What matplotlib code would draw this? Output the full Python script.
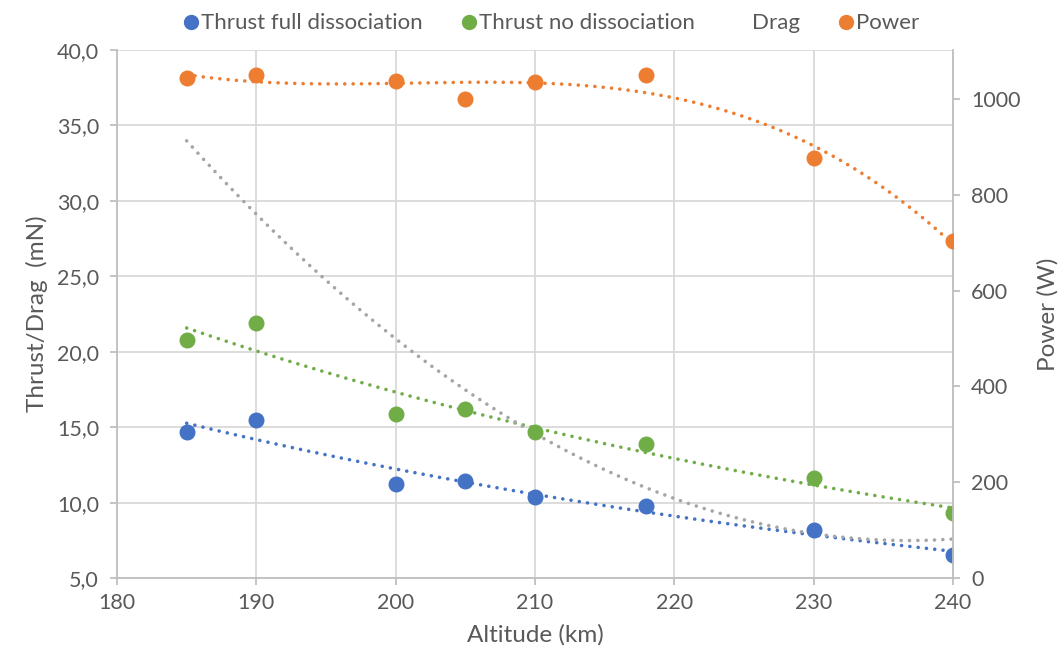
import numpy as np
import matplotlib
matplotlib.use("Agg")
import matplotlib.pyplot as plt
from matplotlib.lines import Line2D
from matplotlib.ticker import FuncFormatter

plt.rcParams['font.family'] = ['Lato', 'DejaVu Sans']

# Altitude samples (km)
altitude = [185, 190, 200, 205, 210, 218, 230, 240]
# Thrust (mN)
thrust_full = [14.7, 15.5, 11.2, 11.4, 10.4, 9.8, 8.2, 6.5]
thrust_none = [20.8, 21.9, 15.9, 16.2, 14.7, 13.9, 11.6, 9.3]
# Drag (mN), shown only through its trendline
drag = [34.0, 29.1, 20.8, 17.5, 14.6, 11.0, 7.9, 7.6]
# Power (W)
power = [1044, 1050, 1038, 1000, 1036, 1050, 876, 704]

C_BLUE = '#4472C4'
C_GREEN = '#70AD47'
C_GRAY = '#A5A5A5'
C_ORANGE = '#ED7D31'
TXT = '#595959'
GRID = '#D9D9D9'

x = np.array(altitude, dtype=float)
xs = np.linspace(x.min(), x.max(), 300)


def exp_trend(y):
    k, b = np.polyfit(x, np.log(y), 1)
    return np.exp(b + k * xs)


def poly_trend(y, order):
    return np.polyval(np.polyfit(x, y, order), xs)


fig = plt.figure(figsize=(10.61, 6.60), dpi=100)
ax = fig.add_axes([0.1103, 0.1242, 0.7879, 0.8000])
ax2 = ax.twinx()

dot = dict(linestyle=(0, (0.01, 2.3)), dash_capstyle='round', lw=2.6)

ax.plot(xs, exp_trend(thrust_full), color=C_BLUE, **dot, zorder=3)
ax.plot(xs, exp_trend(thrust_none), color=C_GREEN, **dot, zorder=3)
ax.plot(xs, poly_trend(drag, 2), color=C_GRAY, **dot, zorder=3)
ax.plot(x, thrust_full, 'o', color=C_BLUE, ms=10.5, zorder=4)
ax.plot(x, thrust_none, 'o', color=C_GREEN, ms=10.5, zorder=4)

ax2.plot(xs, poly_trend(power, 3), color=C_ORANGE, **dot, zorder=3)
ax2.plot(x, power, 'o', color=C_ORANGE, ms=10.5, zorder=4)

ax.set_xlim(180, 240)
ax.set_ylim(5, 40)
ax2.set_ylim(0, 1102)
ax.set_xticks(np.arange(180, 241, 10))
ax.set_yticks(np.arange(5, 40.1, 5))
ax2.set_yticks(np.arange(0, 1001, 200))
ax.yaxis.set_major_formatter(FuncFormatter(lambda v, p: f"{v:.1f}".replace('.', ',')))

ax.grid(True, color=GRID, lw=1.3)
ax.set_axisbelow(True)

for a in (ax, ax2):
    for s in a.spines.values():
        s.set_visible(False)
ax.spines['left'].set_visible(True)
ax.spines['bottom'].set_visible(True)
ax2.spines['right'].set_visible(True)
for s in (ax.spines['left'], ax.spines['bottom'], ax2.spines['right']):
    s.set_color('#BFBFBF')
    s.set_linewidth(1.3)

ax.tick_params(axis='both', colors='#BFBFBF', labelcolor=TXT, labelsize=15.5,
               length=5, width=1.3)
ax2.tick_params(axis='y', colors='#BFBFBF', labelcolor=TXT, labelsize=15.5,
                length=5, width=1.3, pad=8)
ax.tick_params(axis='y', pad=8)
ax.tick_params(axis='x', pad=6)

ax.set_xlabel('Altitude (km)', color=TXT, fontsize=17.5, labelpad=8)
ax.set_ylabel('Thrust/Drag  (mN)', color=TXT, fontsize=17.5, labelpad=6)
ax2.set_ylabel('Power (W)', color=TXT, fontsize=17.5, labelpad=12)

handles = [
    Line2D([], [], marker='o', color=C_BLUE, ls='none', ms=10),
    Line2D([], [], marker='o', color=C_GREEN, ls='none', ms=10),
    Line2D([], [], marker='o', color='none', ls='none', ms=10),
    Line2D([], [], marker='o', color=C_ORANGE, ls='none', ms=10),
]
labels = ['Thrust full dissociation', 'Thrust no dissociation', 'Drag', 'Power']
leg = fig.legend(handles, labels, loc='upper center', bbox_to_anchor=(0.52, 1.01),
                 ncol=4, frameon=False, fontsize=16, handlelength=0.6,
                 handletextpad=0.15, columnspacing=1.8)
for t in leg.get_texts():
    t.set_color(TXT)

fig.savefig('out.png', dpi=100)
